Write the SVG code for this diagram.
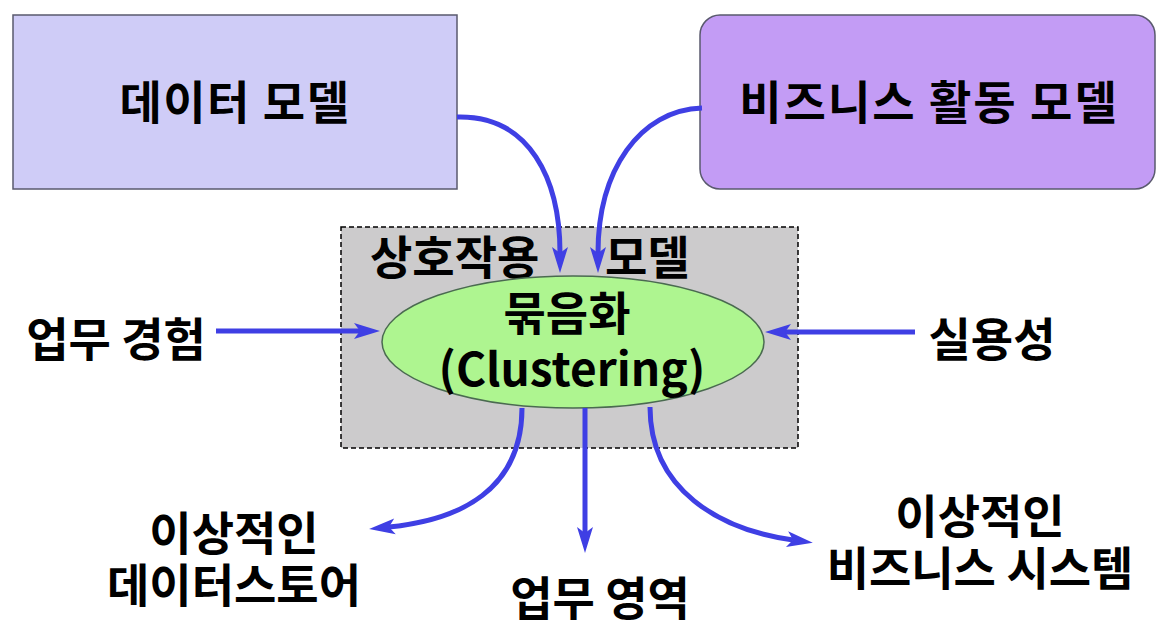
<svg xmlns="http://www.w3.org/2000/svg" width="1167" height="635" viewBox="0 0 1167 635">
<style>
.t{font-family:"Noto Sans CJK KR","Noto Sans",sans-serif;font-weight:bold;font-size:46px;fill:#000;text-anchor:middle}
.c{fill:none;stroke:#3f3fe4;stroke-width:5}
</style>
<defs>
<marker id="ah" markerUnits="userSpaceOnUse" markerWidth="26" markerHeight="18" refX="6" refY="9" orient="auto" overflow="visible">
<path d="M0,1 L26,9 L0,17 L6,9 Z" fill="#3f3fe4"/>
</marker>
</defs>
<rect width="1167" height="635" fill="#fff"/>
<g id="interaction-model">
<rect x="341" y="227" width="457" height="221" fill="#cccbcc" stroke="#000" stroke-width="1.5" stroke-dasharray="5,3"/>
<text class="t" x="370" y="274" style="text-anchor:start">상호작용 <tspan x="605">모델</tspan></text>
</g>
<g id="data-model">
<rect x="13" y="15" width="444" height="174" fill="#cfccf7" stroke="#5a5a6e" stroke-width="1.5"/>
<text class="t" x="235" y="119" letter-spacing="1.5">데이터 모델</text>
</g>
<g id="business-model">
<rect x="700" y="15" width="455" height="174" rx="20" fill="#c39cf5" stroke="#5a5a6e" stroke-width="1.5"/>
<text class="t" x="929" y="119" letter-spacing="2">비즈니스 활동 모델</text>
</g>
<g id="clustering">
<ellipse cx="573" cy="342" rx="191" ry="66" fill="#aef590" stroke="#4a6a50" stroke-width="1.5"/>
<text class="t" x="567" y="330">묶음화</text>
<text class="t" x="572" y="386">(Clustering)</text>
</g>
<g id="work-experience"><text class="t" x="116" y="356">업무 경험</text></g>
<g id="usability"><text class="t" x="992" y="356">실용성</text></g>
<g id="ideal-datastore"><text class="t" x="234" y="550">이상적인</text><text class="t" x="234" y="602">데이터스토어</text></g>
<g id="work-area"><text class="t" x="600" y="615">업무 영역</text></g>
<g id="ideal-business-system"><text class="t" x="980" y="533">이상적인</text><text class="t" x="980" y="585">비즈니스 시스템</text></g>
<g id="connectors">
<path class="c" d="M457,117 C530,115 560,180 560,253" marker-end="url(#ah)"/>
<path class="c" d="M702,108 C640,110 598,170 598,253" marker-end="url(#ah)"/>
<path class="c" d="M216,331 L360,331" marker-end="url(#ah)"/>
<path class="c" d="M915,332 L785,332" marker-end="url(#ah)"/>
<path class="c" d="M585,408 L585,533" marker-end="url(#ah)"/>
<path class="c" d="M522,408 C522,490 460,520 389,527" marker-end="url(#ah)"/>
<path class="c" d="M650,407 C650,490 720,530 793,540" marker-end="url(#ah)"/>
</g>
</svg>
